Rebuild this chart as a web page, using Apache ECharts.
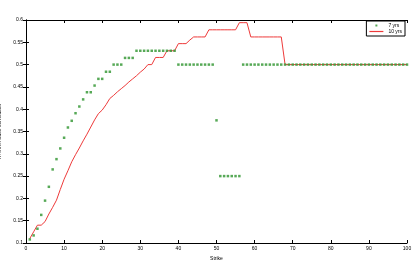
<!DOCTYPE html>
<html>
<head>
<meta charset="utf-8">
<script src="https://cdn.jsdelivr.net/npm/echarts@6/dist/echarts.min.js"></script>
<style>
  html, body { margin: 0; padding: 0; background: #fff; }
  #chart { width: 415px; height: 267px; }
</style>
</head>
<body>
<div id="chart"></div>
<script>
// strikes 1..100
const strikes = [
  1, 2, 3, 4, 5, 6, 7, 8, 9, 10,
  11, 12, 13, 14, 15, 16, 17, 18, 19, 20,
  21, 22, 23, 24, 25, 26, 27, 28, 29, 30,
  31, 32, 33, 34, 35, 36, 37, 38, 39, 40,
  41, 42, 43, 44, 45, 46, 47, 48, 49, 50,
  51, 52, 53, 54, 55, 56, 57, 58, 59, 60,
  61, 62, 63, 64, 65, 66, 67, 68, 69, 70,
  71, 72, 73, 74, 75, 76, 77, 78, 79, 80,
  81, 82, 83, 84, 85, 86, 87, 88, 89, 90,
  91, 92, 93, 94, 95, 96, 97, 98, 99, 100
]

// 7 yrs base correlation (markers)
const corr7y = [
  0.108, 0.117, 0.132, 0.163, 0.195, 0.226, 0.265, 0.288, 0.312, 0.336,
  0.359, 0.374, 0.391, 0.406, 0.422, 0.438, 0.438, 0.453, 0.468, 0.468,
  0.484, 0.484, 0.5, 0.5, 0.5, 0.515, 0.515, 0.515, 0.531, 0.531,
  0.531, 0.531, 0.531, 0.531, 0.531, 0.531, 0.531, 0.531, 0.531, 0.5,
  0.5, 0.5, 0.5, 0.5, 0.5, 0.5, 0.5, 0.5, 0.5, 0.375,
  0.25, 0.25, 0.25, 0.25, 0.25, 0.25, 0.5, 0.5, 0.5, 0.5,
  0.5, 0.5, 0.5, 0.5, 0.5, 0.5, 0.5, 0.5, 0.5, 0.5,
  0.5, 0.5, 0.5, 0.5, 0.5, 0.5, 0.5, 0.5, 0.5, 0.5,
  0.5, 0.5, 0.5, 0.5, 0.5, 0.5, 0.5, 0.5, 0.5, 0.5,
  0.5, 0.5, 0.5, 0.5, 0.5, 0.5, 0.5, 0.5, 0.5, 0.5
]

// 10 yrs base correlation (line)
const corr10y = [
  0.11, 0.125, 0.14, 0.14, 0.148, 0.165, 0.18, 0.196, 0.22, 0.243,
  0.262, 0.282, 0.298, 0.313, 0.329, 0.344, 0.36, 0.376, 0.39, 0.398,
  0.41, 0.424, 0.431, 0.439, 0.446, 0.453, 0.461, 0.468, 0.475, 0.483,
  0.49, 0.5, 0.5, 0.516, 0.516, 0.516, 0.531, 0.531, 0.531, 0.547,
  0.547, 0.547, 0.555, 0.562, 0.562, 0.562, 0.562, 0.578, 0.578, 0.578,
  0.578, 0.578, 0.578, 0.578, 0.578, 0.594, 0.594, 0.594, 0.562, 0.562,
  0.562, 0.562, 0.562, 0.562, 0.562, 0.562, 0.562, 0.5, 0.5, 0.5,
  0.5, 0.5, 0.5, 0.5, 0.5, 0.5, 0.5, 0.5, 0.5, 0.5,
  0.5, 0.5, 0.5, 0.5, 0.5, 0.5, 0.5, 0.5, 0.5, 0.5,
  0.5, 0.5, 0.5, 0.5, 0.5, 0.5, 0.5, 0.5, 0.5, 0.5
]

const chart = echarts.init(document.getElementById('chart'), null, { renderer: 'canvas' })

const axisLine = { show: true, lineStyle: { color: '#000', width: 1 } }
const tick = { show: true, inside: true, length: 3, lineStyle: { color: '#000', width: 1 } }
const font = 'Liberation Sans'
const red = '#ee3a3a'
const green = '#3a9a3a'

const option = {
  animation: false,
  backgroundColor: '#fff',
  grid: { left: 26, right: 8, top: 20, bottom: 24, containLabel: false, outerBoundsMode: 'none' },
  legend: {
    right: 10,
    top: 21,
    orient: 'vertical',
    backgroundColor: '#fff',
    borderColor: '#000',
    borderWidth: 1,
    padding: [2, 3, 2, 3],
    itemGap: 1,
    itemWidth: 14,
    itemHeight: 4,
    textStyle: { fontSize: 5, fontFamily: font, color: '#000' },
    data: [
      { name: '7 yrs', icon: 'path://M0,0M14,4M6,1L8,1L8,3L6,3Z', itemStyle: { color: green } },
      { name: '10 yrs', icon: 'path://M0,0M14,4M0,1.4L14,1.4L14,2.6L0,2.6Z', itemStyle: { color: red, borderWidth: 0 }, lineStyle: { color: red, width: 0 } }
    ]
  },
  xAxis: [
    {
      type: 'value', min: 0, max: 100, interval: 10,
      name: 'Strike', nameLocation: 'middle', nameGap: 8,
      nameTextStyle: { fontSize: 5, fontFamily: font, color: '#000' },
      axisLine, axisTick: tick, splitLine: { show: false },
      axisLabel: { fontSize: 5, fontFamily: font, color: '#000', margin: 3 }
    },
    {
      type: 'value', min: 0, max: 100, interval: 10, position: 'top',
      axisLine, axisTick: tick, splitLine: { show: false },
      axisLabel: { show: false }
    }
  ],
  yAxis: [
    {
      type: 'value', min: 0.1, max: 0.6, interval: 0.05,
      name: 'ITRAXX Base correlation', nameLocation: 'middle', nameGap: 15,
      nameTextStyle: { fontSize: 5, fontFamily: font, color: '#000' },
      axisLine, axisTick: tick, splitLine: { show: false },
      axisLabel: { fontSize: 5, fontFamily: font, color: '#000', margin: 3 }
    },
    {
      type: 'value', min: 0.1, max: 0.6, interval: 0.05, position: 'right',
      axisLine, axisTick: tick, splitLine: { show: false },
      axisLabel: { show: false }
    }
  ],
  series: [
    {
      name: '10 yrs',
      type: 'line',
      data: strikes.map((s, i) => [s, corr10y[i]]),
      showSymbol: false,
      symbol: 'none',
      lineStyle: { color: red, width: 1 },
      itemStyle: { color: red },
      z: 2
    },
    {
      name: '7 yrs',
      type: 'scatter',
      data: strikes.map((s, i) => [s, corr7y[i]]),
      symbol: 'rect',
      symbolSize: 2.5,
      itemStyle: { color: green, opacity: 0.85 },
      z: 3
    }
  ]
}

chart.setOption(option)
window.addEventListener('resize', () => chart.resize())
</script>
</body>
</html>
